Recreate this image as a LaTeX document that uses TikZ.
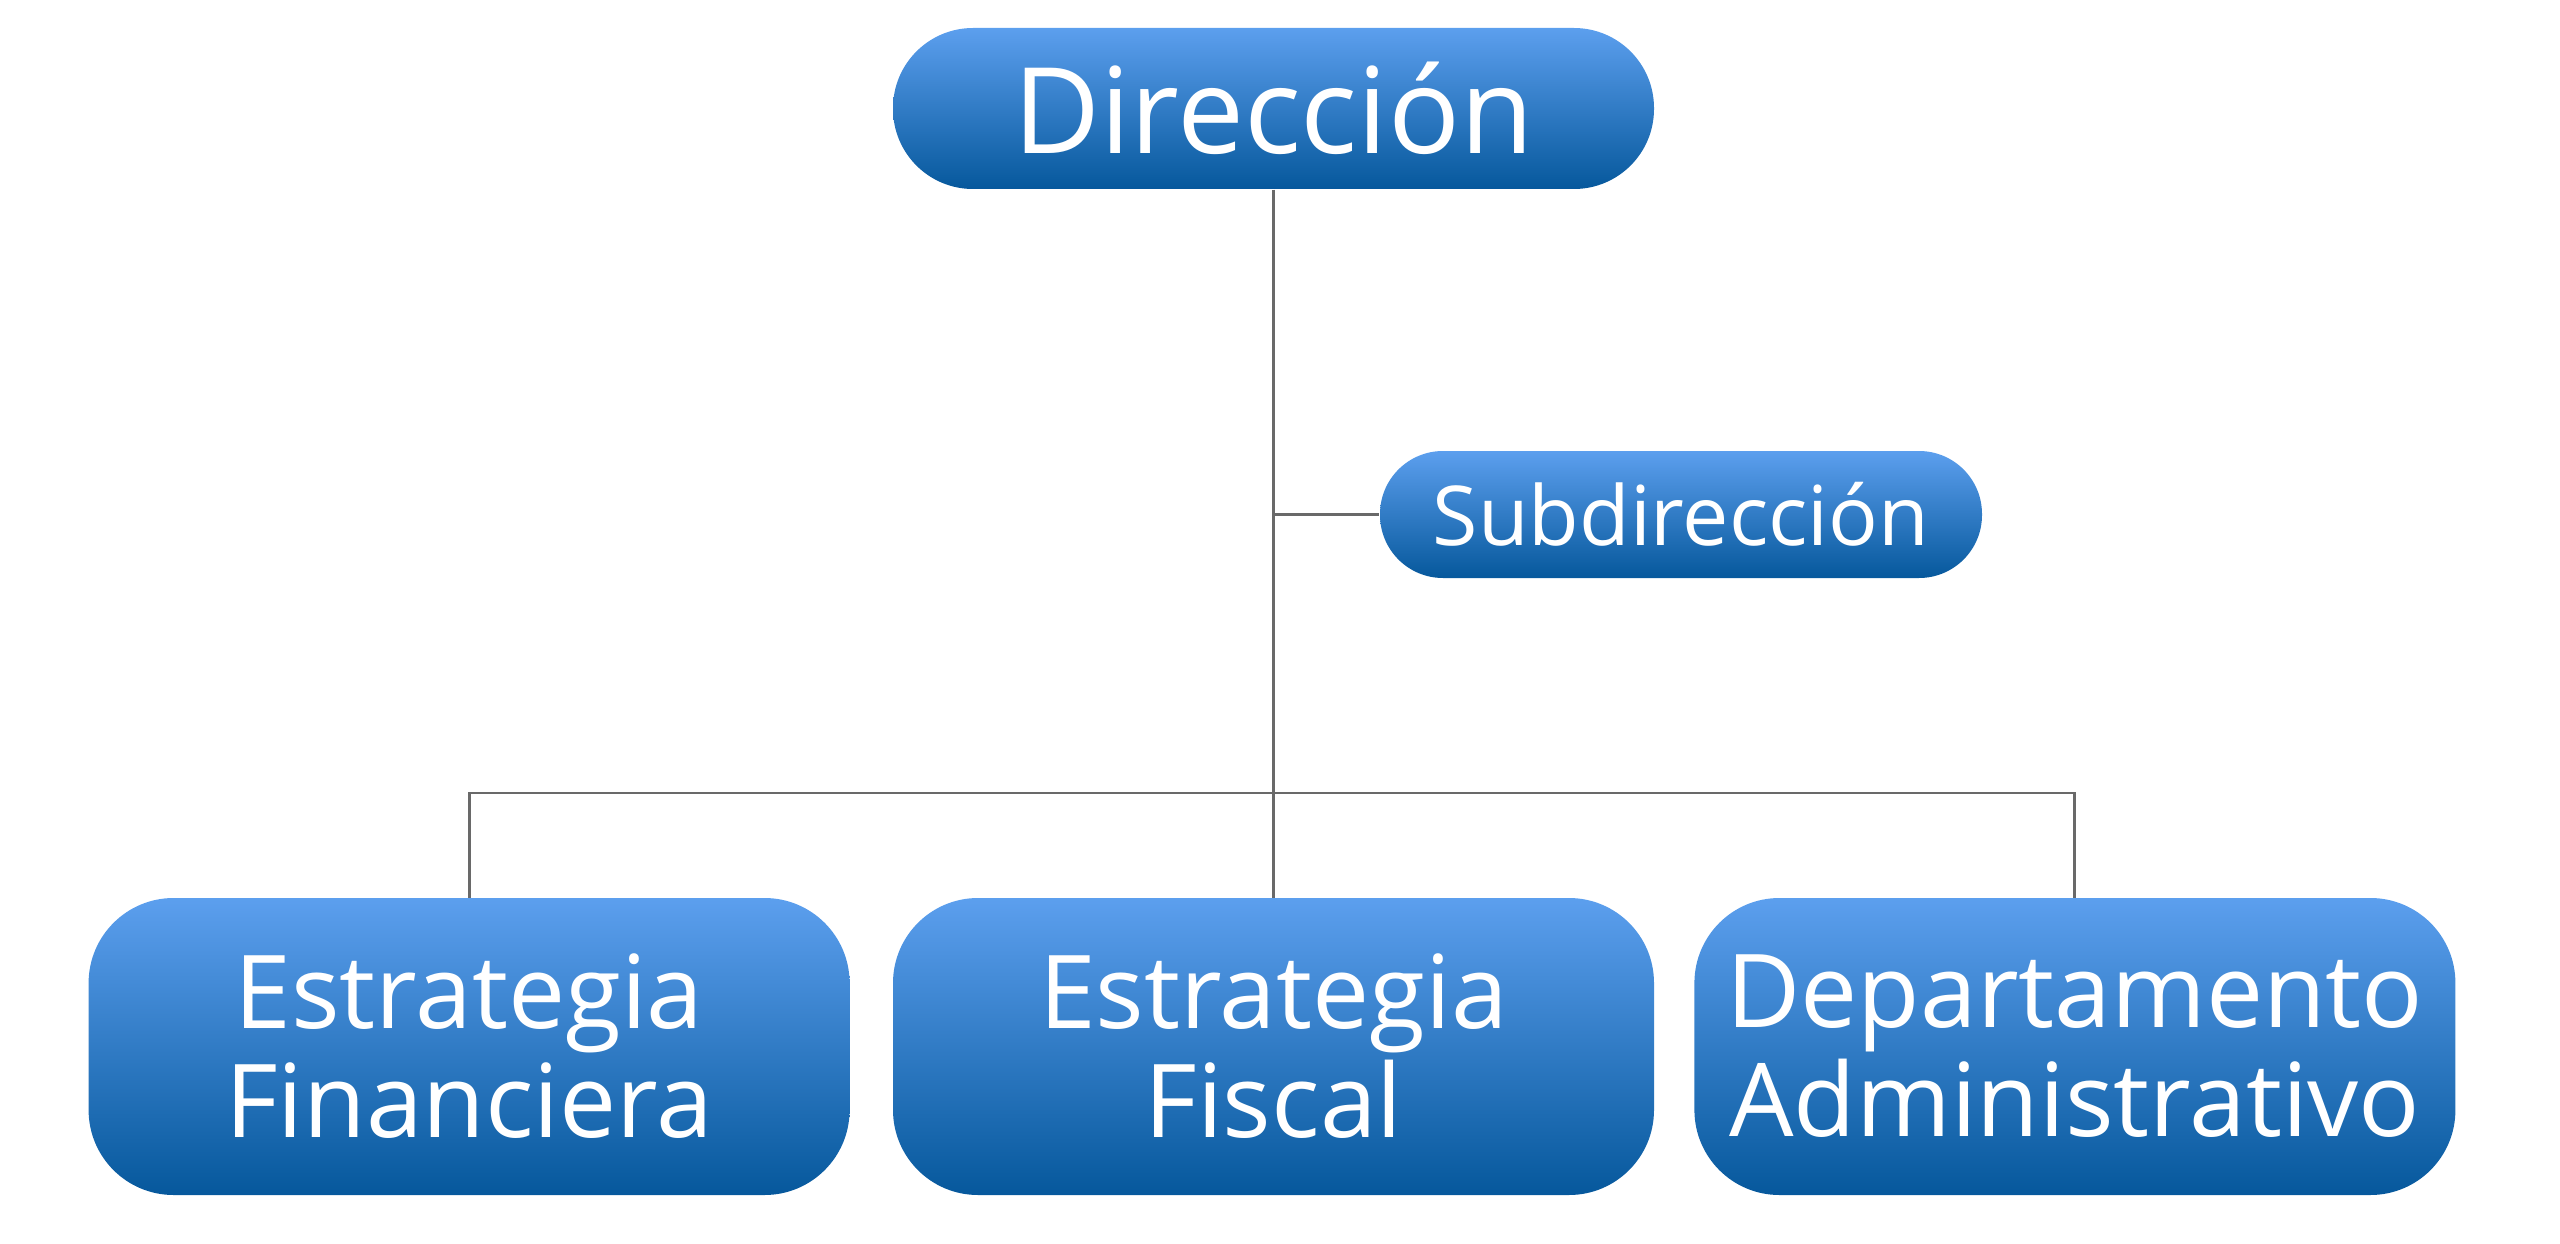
\documentclass[tikz,border=0pt]{standalone}
\usepackage{fontspec}
\setmainfont{Open Sans}
\usepackage{xcolor}
\usepackage{tikz}
\usetikzlibrary{positioning,backgrounds}
\definecolor{boxtop}{RGB}{92,159,238}
\definecolor{boxmid}{RGB}{38,112,192}
\definecolor{boxbot}{RGB}{6,88,156}
\definecolor{linkgray}{RGB}{105,105,105}
\tikzstyle{unit}=[text=white,align=center,inner sep=0pt,top color=boxtop,middle color=boxmid,bottom color=boxbot]
\tikzstyle{head}+=[unit,minimum width=7.61cm,minimum height=1.61cm,rounded corners=0.8cm,font=\fontsize{34}{36}\selectfont]
\tikzstyle{sub}+=[unit,minimum width=6.02cm,minimum height=1.27cm,rounded corners=0.63cm,font=\fontsize{23.5}{26}\selectfont]
\tikzstyle{dept}+=[unit,minimum width=7.61cm,minimum height=2.97cm,rounded corners=0.85cm,font=\fontsize{29}{31}\selectfont]
\tikzstyle{link}=[draw=linkgray,line width=0.85pt]

\begin{document}
\begin{tikzpicture}
    \useasboundingbox (0,0) rectangle (25.6,12.43);
    \node[head] (dir) at (12.735,11.345) {Dirección};
    \node[sub] (subdir) at (16.81,7.285) {Subdirección};
    \node[dept] (fiscal) at (12.735,1.965) {Estrategia\\Fiscal};
    \node[dept,left=0.42cm of fiscal] (finan) {Estrategia\\Financiera};
    \node[dept,right=0.39cm of fiscal] (admin) {Departamento\\Administrativo};
    \coordinate (bus) at (12.735,4.50);
    \begin{scope}[on background layer]
      \draw[link] (dir.south) -- ([yshift=-1mm]fiscal.north);
      \draw[link] (dir.south |- subdir.west) -- (subdir.west);
      \draw[link] ([yshift=-1mm]finan.north) -- (finan.north |- bus) -- (admin.north |- bus) -- ([yshift=-1mm]admin.north);
    \end{scope}
  \end{tikzpicture}
\end{document}
